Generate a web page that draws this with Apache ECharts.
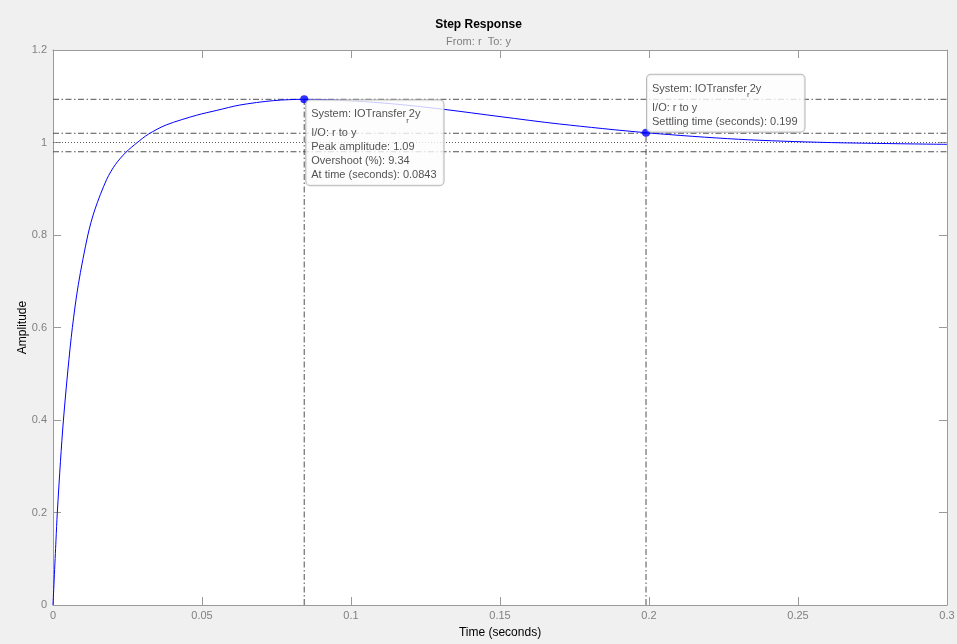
<!DOCTYPE html>
<html>
<head>
<meta charset="utf-8">
<script src="https://cdn.jsdelivr.net/npm/echarts@6/dist/echarts.min.js"></script>
<style>
html,body{margin:0;padding:0;background:#f0f0f0;}
#chart{width:957px;height:644px;}
</style>
</head>
<body>
<div id="chart"></div>
<script>
// Step response samples (time in seconds, amplitude)
const timeValues = [0, 0.001, 0.00145, 0.0025, 0.0035, 0.005, 0.0065, 0.0085, 0.0117, 0.014, 0.018, 0.021, 0.0245, 0.0283, 0.032, 0.038, 0.0482, 0.055, 0.0627, 0.0739, 0.0843, 0.1, 0.115, 0.131, 0.15, 0.17, 0.199, 0.23, 0.26, 0.3];
const amplitudeValues = [0, 0.14, 0.2, 0.31, 0.4, 0.508, 0.6, 0.693, 0.8, 0.854, 0.92, 0.953, 0.979, 1.0, 1.018, 1.038, 1.059, 1.0695, 1.081, 1.0905, 1.0934, 1.09, 1.083, 1.0718, 1.056, 1.04, 1.0212, 1.007, 1.0, 0.996];

// Characteristic points
const peakTime = 0.0843;
const peakAmplitude = 1.0934;
const settleTime = 0.199;
const settleAmplitude = 1.0212;
const finalValue = 1.0;
const settleBand = [0.98, 1.02];

// Axis ticks
const xTicks = ['0', '0.05', '0.1', '0.15', '0.2', '0.25', '0.3'];
const yTicks = ['0', '0.2', '0.4', '0.6', '0.8', '1', '1.2'];

// Annotation text
const peakInfo = ['System: IOTransfer', 'r', '2y', 'I/O: r to y', 'Peak amplitude: 1.09', 'Overshoot (%): 9.34', 'At time (seconds): 0.0843'];
const settleInfo = ['System: IOTransfer', 'r', '2y', 'I/O: r to y', 'Settling time (seconds): 0.199'];

const FONT = '"Liberation Sans", Arial, Helvetica, sans-serif';
const xMin = 0, xMax = 0.3, xInt = 0.05;
const yMin = 0, yMax = 1.2, yInt = 0.2;

const dashDot = [6, 2.5, 1.5, 2.5];
const refColor = '#505050';

const curveData = timeValues.map((t, i) => [t, amplitudeValues[i]]);

function fmtX(v) { const i = Math.round((v - xMin) / xInt); return xTicks[i] !== undefined ? xTicks[i] : ''; }
function fmtY(v) { const i = Math.round((v - yMin) / yInt); return yTicks[i] !== undefined ? yTicks[i] : ''; }

const richStyle = {
  a: { fontFamily: FONT, fontSize: 11, color: '#262626', lineHeight: 24 },
  s: { fontFamily: FONT, fontSize: 8, color: '#262626', verticalAlign: 'middle', padding: [12, 0, 0, 0] },
  b: { fontFamily: FONT, fontSize: 11, color: '#262626', lineHeight: 14 }
};

function infoText(arr) {
  let s = '{a|' + arr[0] + '}{s|' + arr[1] + '}{a|' + arr[2] + '}';
  for (let i = 3; i < arr.length; i++) s += '\n{b|' + arr[i] + '}';
  return s;
}

const boxLabel = {
  show: true,
  backgroundColor: '#fdfdfd',
  borderColor: '#a6a6a6',
  borderWidth: 1,
  borderRadius: 4,
  padding: [2, 7, 3, 5],
  align: 'left',
  verticalAlign: 'top',
  rich: richStyle
};

function refLine(data, type, color) {
  return {
    type: 'line', data: data, symbol: 'none', silent: true, animation: false,
    lineStyle: { color: color || refColor, width: 1, type: type },
    z: 3
  };
}

const chart = echarts.init(document.getElementById('chart'), null, { renderer: 'canvas' });
chart.setOption({
  backgroundColor: '#f0f0f0',
  animation: false,
  title: {
    text: 'Step Response',
    subtext: 'From: r  To: y',
    left: 'center',
    top: 18,
    padding: 0,
    itemGap: 3,
    textStyle: { fontFamily: FONT, fontSize: 12, fontWeight: 'bold', color: '#000', lineHeight: 14 },
    subtextStyle: { fontFamily: FONT, fontSize: 11, color: '#808080', lineHeight: 13 }
  },
  grid: { left: 53, right: 10, top: 50, bottom: 39, show: true, backgroundColor: '#ffffff', borderWidth: 0, outerBoundsMode: 'none', containLabel: false },
  xAxis: [{
    type: 'value', min: xMin, max: xMax, interval: xInt,
    name: 'Time (seconds)', nameLocation: 'middle', nameGap: 22, nameMoveOverlap: false,
    nameTextStyle: { fontFamily: FONT, fontSize: 12, color: '#000' },
    axisLine: { show: true, onZero: false, lineStyle: { color: '#9a9a9a', width: 1 } },
    axisTick: { show: true, inside: true, length: 8, lineStyle: { color: '#9a9a9a' } },
    axisLabel: { margin: 5, fontFamily: FONT, fontSize: 11, color: '#808080', formatter: fmtX },
    splitLine: { show: false }
  }, {
    type: 'value', min: xMin, max: xMax, interval: xInt, position: 'top',
    axisLine: { show: true, onZero: false, lineStyle: { color: '#9a9a9a', width: 1 } },
    axisTick: { show: true, inside: true, length: 8, lineStyle: { color: '#9a9a9a' } },
    axisLabel: { show: false },
    splitLine: { show: false }
  }],
  yAxis: [{
    type: 'value', min: yMin, max: yMax, interval: yInt,
    name: 'Amplitude', nameLocation: 'middle', nameGap: 24, nameMoveOverlap: false,
    nameTextStyle: { fontFamily: FONT, fontSize: 12, color: '#000' },
    axisLine: { show: true, onZero: false, lineStyle: { color: '#9a9a9a', width: 1 } },
    axisTick: { show: true, inside: true, length: 8, lineStyle: { color: '#9a9a9a' } },
    axisLabel: { margin: 6, fontFamily: FONT, fontSize: 11, color: '#808080', formatter: fmtY },
    splitLine: { show: false }
  }, {
    type: 'value', min: yMin, max: yMax, interval: yInt, position: 'right',
    axisLine: { show: true, onZero: false, lineStyle: { color: '#9a9a9a', width: 1 } },
    axisTick: { show: true, inside: true, length: 8, lineStyle: { color: '#9a9a9a' } },
    axisLabel: { show: false },
    splitLine: { show: false }
  }],
  series: [
    refLine([[xMin, peakAmplitude], [xMax, peakAmplitude]], dashDot),
    refLine([[xMin, settleBand[1]], [xMax, settleBand[1]]], dashDot),
    refLine([[xMin, settleBand[0]], [xMax, settleBand[0]]], dashDot),
    refLine([[xMin, finalValue], [xMax, finalValue]], [1, 2], '#606060'),
    refLine([[peakTime, yMin], [peakTime, peakAmplitude]], dashDot),
    refLine([[settleTime, yMin], [settleTime, settleAmplitude]], dashDot),
    {
      type: 'line', data: curveData, symbol: 'none', smooth: 0.3,
      lineStyle: { color: '#0000ff', width: 1 }, z: 4, silent: true
    },
    {
      type: 'scatter', symbol: 'circle', symbolSize: 8, zlevel: 1, z: 10, silent: true,
      itemStyle: { color: '#0000ff' },
      data: [
        { value: [peakTime, peakAmplitude], label: Object.assign({}, boxLabel, { position: [6, 5], formatter: infoText(peakInfo) }) },
        { value: [settleTime, settleAmplitude], label: Object.assign({}, boxLabel, { position: [5, -54], formatter: infoText(settleInfo) }) }
      ]
    }
  ]
});
</script>
</body>
</html>
